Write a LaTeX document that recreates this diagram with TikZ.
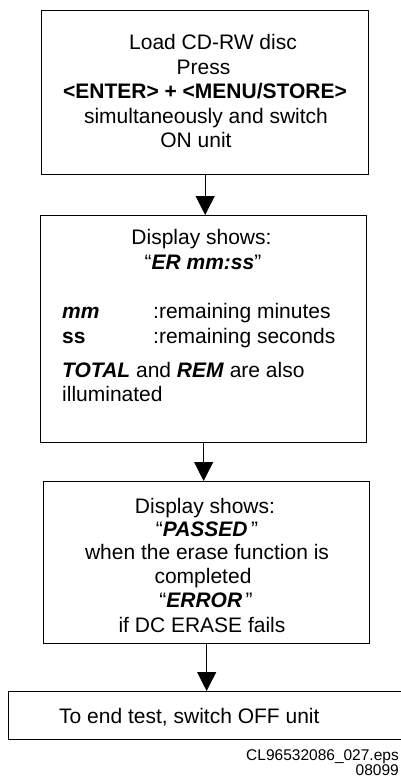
\documentclass[tikz,border=0pt]{standalone}
\usepackage{fontspec}
\setmainfont{Liberation Sans}
\usetikzlibrary{arrows.meta}
\begin{document}
\begin{tikzpicture}[x=1pt,y=-1pt,
  box/.style={draw=black, line width=1.3pt, inner sep=0pt, anchor=north west, rectangle},
  txt/.style={inner sep=0pt, anchor=base, font=\fontsize{21}{24}\selectfont},
  ltxt/.style={txt, anchor=base west},
  foot/.style={inner sep=0pt, anchor=base east, font=\fontsize{15.5}{16}\selectfont},
  arr/.style={line width=1.2pt, -{Triangle[length=19pt,width=19pt]}}]
\clip (0,0) rectangle (401,778);
\useasboundingbox (0,0) rectangle (401,778);
% box 1
\node[box, minimum width=327pt, minimum height=164pt] (b1) at (41,10) {};
\node[txt] (t1a) at (213,50) {Load CD-RW disc};
\node[txt] (t1b) at (203.5,74.5) {Press};
\node[txt] (t1c) at (205,99) {\textbf{<ENTER> + <MENU/STORE>}};
\node[txt] (t1d) at (206,123.5) {simultaneously and switch};
\node[txt] (t1e) at (196,148) {ON unit};
% box 2
\node[box, minimum width=326pt, minimum height=227pt] (b2) at (40,215) {};
\node[txt] (t2a) at (201.5,244) {Display shows:};
\node[txt] (t2b) at (203,269) {“\textbf{\textit{ER mm:ss}}”};
\node[ltxt] (t2c) at (62,318) {\textbf{\textit{mm}}};
\node[ltxt] (t2d) at (153,318) {:remaining minutes};
\node[ltxt] (t2e) at (62,343) {\textbf{ss}};
\node[ltxt] (t2f) at (153,343) {:remaining seconds};
\node[ltxt] (t2g) at (62,377) {\textbf{\textit{TOTAL}} and \textbf{\textit{REM}} are also};
\node[ltxt] (t2h) at (62,401) {illuminated};
% box 3
\node[box, minimum width=326pt, minimum height=162pt] (b3) at (43,481) {};
\node[txt] (t3a) at (205,513) {Display shows:};
\node[txt] (t3b) at (207,536) {“\textbf{\textit{PASSED}}\,”};
\node[txt] (t3c) at (207,559) {when the erase function is};
\node[txt] (t3d) at (203,583) {completed};
\node[txt] (t3e) at (206,607) {“\textbf{\textit{ERROR}}\,”};
\node[txt] (t3f) at (202,632) {if DC ERASE fails};
% box 4
\node[box, minimum width=420pt, minimum height=48pt] (b4) at (8,691) {};
\node[ltxt] (t4) at (59,723) {To end test, switch OFF unit};
% footer
\node[foot] (f1) at (399,760) {CL96532086\_027.eps};
\node[foot] (f2) at (399,775) {08099};
% arrows
\draw[arr] (b1.south) -- (b1.south |- b2.north);
\draw[arr] (b2.south) -- (b2.south |- b3.north);
\draw[arr] (b3.south) -- (b3.south |- b4.north);
\end{tikzpicture}
\end{document}
